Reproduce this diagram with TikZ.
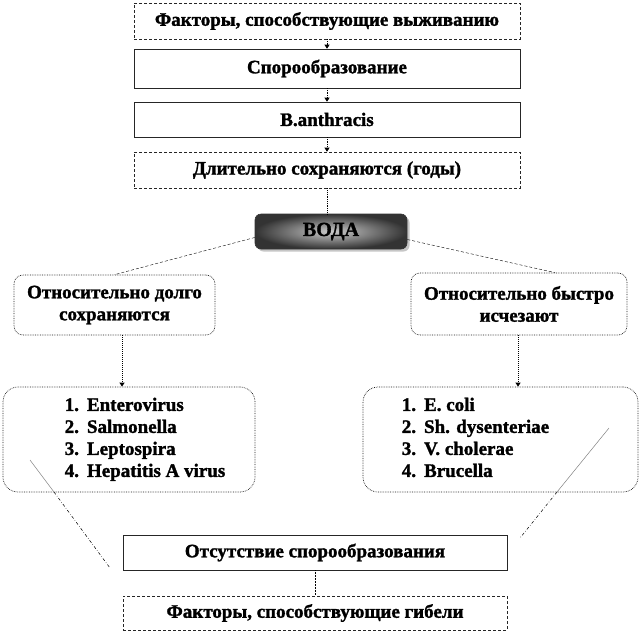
\documentclass[tikz,border=0pt]{standalone}
\usepackage{fontspec}
\setmainfont{Liberation Serif}[BoldFeatures={FakeBold=1.5}]
\usetikzlibrary{arrows.meta, positioning, shadows, calc}
\newcommand{\boxfont}{\fontsize{19}{22}\selectfont\bfseries}
\tikzset{
  factbox/.style={rectangle, draw=black!85, densely dashed, line width=0.6pt,
                  minimum width=386pt, minimum height=36pt, inner sep=2pt, font=\boxfont},
  stepbox/.style={factbox, solid},
  water/.style={rectangle, rounded corners=6pt, draw=black!80, line width=0.6pt,
                minimum width=152pt, minimum height=35pt, inner color=gray!40, outer color=black!80,
                drop shadow={shadow xshift=2.5pt, shadow yshift=-2.5pt, opacity=0.45},
                font=\fontsize{20}{22}\selectfont\bfseries},
  groupbox/.style={rectangle, rounded corners=9pt, draw=black!90, densely dotted, line width=0.7pt,
                   align=center, font=\boxfont},
  listbox/.style={groupbox, rounded corners=15pt, minimum height=105pt},
  arrow/.style={densely dotted, line width=0.7pt, -{Triangle[length=4pt, width=5pt]}},
  dotline/.style={densely dotted, line width=0.8pt},
  waterline/.style={densely dashed, line width=0.4pt},
  slant/.style={line width=0.5pt, gray},
  slantdash/.style={line width=0.5pt, dash dot},
}

\begin{document}
\begin{tikzpicture}[x=1pt, y=-1pt]
  \useasboundingbox (0,0) rectangle (642,635);

  % ── Survival chain ───────────────────────────────────────────────────
  \node[factbox] (survive) at (327,21) {Факторы, способствующие выживанию};
  \node[stepbox, minimum height=39pt] (spores) at (327,68.5) {Спорообразование};
  \node[stepbox, minimum height=35pt] (anthr) at (327,119.5) {B.anthracis};
  \node[factbox] (years) at (327,170) {Длительно сохраняются (годы)};

  \draw[arrow] (survive.south) -- (spores.north);
  \draw[arrow] (spores.south) -- (anthr.north);
  \draw[arrow] (anthr.south) -- (years.north);

  % ── Water ────────────────────────────────────────────────────────────
  \node[water] (water) at (331,231.5) {ВОДА};
  \draw[dotline] (years.south) -- (water.north -| years.south);

  % ── Two groups ───────────────────────────────────────────────────────
  \node[groupbox, minimum width=201pt, minimum height=60pt] (slow) at (114.5,305)
    {Относительно долго\\сохраняются};
  \node[groupbox, minimum width=216pt, minimum height=62pt] (fast) at (519,304)
    {Относительно быстро\\исчезают};

  \draw[waterline] ([yshift=-6pt]water.west) -- (slow.north);
  \draw[waterline] ([yshift=-8pt]water.east) -- ([xshift=36pt]fast.north);

  % ── Lists ────────────────────────────────────────────────────────────
  \node[listbox, minimum width=252pt] (slowlist) at (129,439.5)
    {\hspace*{32pt}\begin{tabular}{@{}l@{\hspace{8pt}}l@{}}
       1. & Enterovirus\\
       2. & Salmonella\\
       3. & Leptospira\\
       4. & Hepatitis A virus
     \end{tabular}};
  \node[listbox, minimum width=275pt] (fastlist) at (500.5,439.5)
    {\begin{tabular}{@{}l@{\hspace{8pt}}l@{}}
       1. & E. coli\\
       2. & Sh. dysenteriae\\
       3. & V. cholerae\\
       4. & Brucella
     \end{tabular}\hspace*{50pt}};

  \draw[arrow, line width=1pt] (slow.south -| 122,0) -- (slowlist.north -| 122,0);
  \draw[arrow, line width=1pt] (fast.south -| 518,0) -- (fastlist.north -| 518,0);

  % ── Death ────────────────────────────────────────────────────────────
  \node[stepbox, minimum width=384pt, minimum height=35pt] (nospore) at (315,552.5)
    {Отсутствие спорообразования};
  \node[factbox, minimum width=384pt, minimum height=34pt] (death) at (315,613)
    {Факторы, способствующие гибели};
  \draw[dotline, line width=0.5pt] (nospore.south) -- (death.north);

  \coordinate (slowin) at (30,460);
  \coordinate (slowcut) at (54,492);
  \coordinate (slowend) at (110,568);
  \coordinate (fastin) at (609,428);
  \coordinate (fastcut) at (557,492);
  \coordinate (fastend) at (520,538);
  \draw[slant] (slowin) -- (slowcut);
  \draw[slantdash] (slowcut) -- (slowend);
  \draw[slant] (fastin) -- (fastcut);
  \draw[slantdash] (fastcut) -- (fastend);

\end{tikzpicture}
\end{document}
